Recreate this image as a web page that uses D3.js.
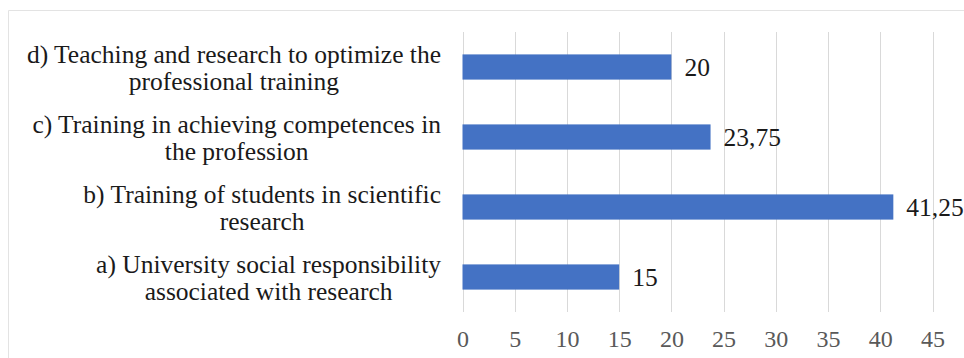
<!DOCTYPE html>
<html><head><meta charset="utf-8">
<script src="https://cdn.jsdelivr.net/npm/d3@7"></script>
<style>html,body{margin:0;padding:0;background:#fff;}svg{display:block;}</style>
</head><body>
<svg id="chart" width="964" height="358"></svg>
<script>
const categories = [
  ["d) Teaching and research to optimize the", "professional training"],
  ["c) Training in achieving competences in", "the profession"],
  ["b) Training of students in scientific", "research"],
  ["a) University social responsibility", "associated with research"]
];
const values = [20, 23.75, 41.25, 15];
const valueLabels = ["20", "23,75", "41,25", "15"];
const ticks = [0, 5, 10, 15, 20, 25, 30, 35, 40, 45];

const svg = d3.select("#chart");
const font = "Liberation Serif";
const m = {left: 462.5, right: 31.5, top: 32, bottom: 46};
const W = 964, H = 358;

// outer frame
svg.append("path").attr("d", `M8.5,${H+2}V10.5H${W+2}`)
  .attr("fill", "none").attr("stroke", "#e3e3e3").attr("stroke-width", 1);

const x = d3.scaleLinear().domain([0, 45]).range([m.left, W - m.right]);
const y = d3.scaleBand().domain(d3.range(categories.length))
  .range([m.top, H - m.bottom]).paddingInner(0.64).paddingOuter(0.32);

// gridlines
svg.append("g").selectAll("line").data(ticks).join("line")
  .attr("x1", d => Math.round(x(d)) + 0.5).attr("x2", d => Math.round(x(d)) + 0.5)
  .attr("y1", m.top).attr("y2", H - m.bottom)
  .attr("stroke", "#d9d9d9").attr("stroke-width", 1);

// x axis labels
const xAxis = d3.axisBottom(x).tickValues(ticks).tickSize(0).tickPadding(0);
const gx = svg.append("g").attr("transform", `translate(0,${H - m.bottom})`).call(xAxis);
gx.select(".domain").remove();
gx.selectAll("text").attr("font-family", font).attr("font-size", 24)
  .attr("fill", "#595959").attr("dy", null).attr("y", 35);

// bars
svg.append("g").selectAll("rect").data(values).join("rect")
  .attr("x", x(0)).attr("y", (d, i) => y(i))
  .attr("width", d => x(d) - x(0)).attr("height", y.bandwidth())
  .attr("fill", "#4472C4");

// value labels
svg.append("g").selectAll("text").data(values).join("text")
  .attr("x", d => x(d) + 13).attr("y", (d, i) => y(i) + y.bandwidth() / 2)
  .attr("dy", "0.35em")
  .attr("font-family", font).attr("font-size", 25.5).attr("fill", "#1a1a1a")
  .text((d, i) => valueLabels[i]);

// category labels
const labelRight = 441;
const lineH = 27;
const cg = svg.append("g");
categories.forEach((lines, i) => {
  const cy = y(i) + y.bandwidth() / 2 + 1;
  const t = cg.append("text").attr("font-family", font).attr("font-size", 25.5)
    .attr("fill", "#1a1a1a").attr("text-anchor", "middle");
  const tsp = t.selectAll("tspan").data(lines).join("tspan").text(d => d);
  let maxW = 0;
  tsp.each(function() { maxW = Math.max(maxW, this.getComputedTextLength()); });
  const cx = labelRight - maxW / 2;
  tsp.attr("x", cx)
    .attr("y", (d, j) => cy + (j - (lines.length - 1) / 2) * lineH)
    .attr("dy", "0.35em");
});
</script>
</body></html>
